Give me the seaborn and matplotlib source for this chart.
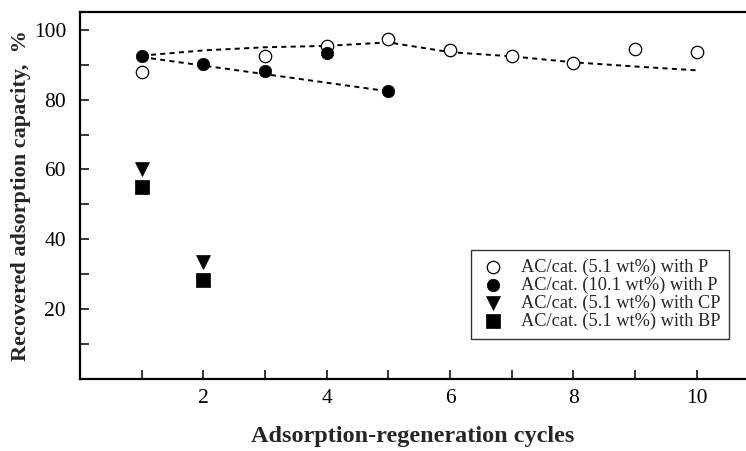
import matplotlib
matplotlib.use("Agg")
import matplotlib.pyplot as plt
import seaborn as sns

# ---- data ----
cycles_p51 = [1, 3, 4, 5, 6, 7, 8, 9, 10]
rec_p51 = [87.9, 92.4, 95.4, 97.3, 94.3, 92.4, 90.5, 94.5, 93.6]
cycles_p101 = [1, 2, 3, 4, 5]
rec_p101 = [92.4, 90.3, 88.3, 93.5, 82.4]
cycles_cp = [1, 2]
rec_cp = [60.2, 33.4]
cycles_bp = [1, 2]
rec_bp = [55.1, 28.3]

trend_p51_x = [1, 2, 3, 4, 5, 6, 7, 8, 9, 10]
trend_p51_y = [92.6, 94.1, 95.0, 95.4, 96.4, 93.6, 92.4, 90.7, 89.5, 88.4]
trend_p101_x = [1, 5]
trend_p101_y = [92.2, 82.4]

labels = ["AC/cat. (5.1 wt%) with P", "AC/cat. (10.1 wt%) with P",
          "AC/cat. (5.1 wt%) with CP", "AC/cat. (5.1 wt%) with BP"]
x_ticks = [1, 2, 3, 4, 5, 6, 7, 8, 9, 10]
x_ticklabels = ["", "2", "", "4", "", "6", "", "8", "", "10"]
y_ticks = [10, 20, 30, 40, 50, 60, 70, 80, 90, 100]
y_ticklabels = ["", "20", "", "40", "", "60", "", "80", "", "100"]
xlabel = "Adsorption-regeneration cycles"
ylabel = "Recovered adsorption capacity,  %"

sns.set_style("ticks")
plt.rcParams['font.family'] = ['Liberation Serif', 'DejaVu Serif']

fig = plt.figure(figsize=(7.46, 4.51), dpi=100)
W, H = 746, 451
left_px, right_px, top_px, bottom_px = 80, 746, 12, 379
ax = fig.add_axes([left_px / W, 1 - bottom_px / H, (right_px - left_px) / W, (bottom_px - top_px) / H])

# trend lines
sns.lineplot(x=trend_p51_x, y=trend_p51_y, ax=ax, color="black", lw=1.4,
             dashes=False, legend=False)
sns.lineplot(x=trend_p101_x, y=trend_p101_y, ax=ax, color="black", lw=1.4,
             dashes=False, legend=False)
for ln in ax.lines:
    ln.set_dashes((2.6, 2.2))

ms = 80
sns.scatterplot(x=cycles_p51, y=rec_p51, ax=ax, marker="o", s=ms,
                facecolor="white", edgecolor="black", linewidth=0.9,
                label=labels[0], zorder=3)
sns.scatterplot(x=cycles_p101, y=rec_p101, ax=ax, marker="o", s=ms,
                color="black", edgecolor="black", linewidth=0.5,
                label=labels[1], zorder=4)
sns.scatterplot(x=cycles_cp, y=rec_cp, ax=ax, marker="v", s=ms + 20,
                color="black", edgecolor="black", linewidth=0.5,
                label=labels[2], zorder=4)
sns.scatterplot(x=cycles_bp, y=rec_bp, ax=ax, marker="s", s=ms + 10,
                color="black", edgecolor="black", linewidth=0.5,
                label=labels[3], zorder=4)

ax.set_xlim(0, 10.8)
ax.set_ylim(0, 105.1)
ax.set_xticks(x_ticks)
ax.set_xticklabels(x_ticklabels, fontsize=15.5)
ax.set_yticks(y_ticks)
ax.set_yticklabels(y_ticklabels, fontsize=15.5)
ax.tick_params(direction="in", length=6.5, width=1.1, colors="black")
ax.tick_params(axis="x", pad=7)
ax.tick_params(axis="y", pad=10)

for sp in ["left", "bottom", "top"]:
    ax.spines[sp].set_linewidth(1.6)
    ax.spines[sp].set_color("black")
ax.spines["right"].set_visible(False)

ax.set_xlabel(xlabel, fontsize=17.5, fontweight="bold", labelpad=13)
ax.set_ylabel(ylabel, fontsize=16, fontweight="bold", labelpad=2)

leg = ax.legend(loc="upper left", bbox_to_anchor=((471 - left_px) / (right_px - left_px),
                                                  1 - (250 - top_px) / (bottom_px - top_px)),
                frameon=True, fancybox=False, fontsize=13.2, handletextpad=0.8,
                borderpad=0.45, labelspacing=0.05, handlelength=1.5, borderaxespad=0)
leg.get_frame().set_edgecolor("black")
leg.get_frame().set_linewidth(1.0)

fig.savefig("out.png", dpi=100)
